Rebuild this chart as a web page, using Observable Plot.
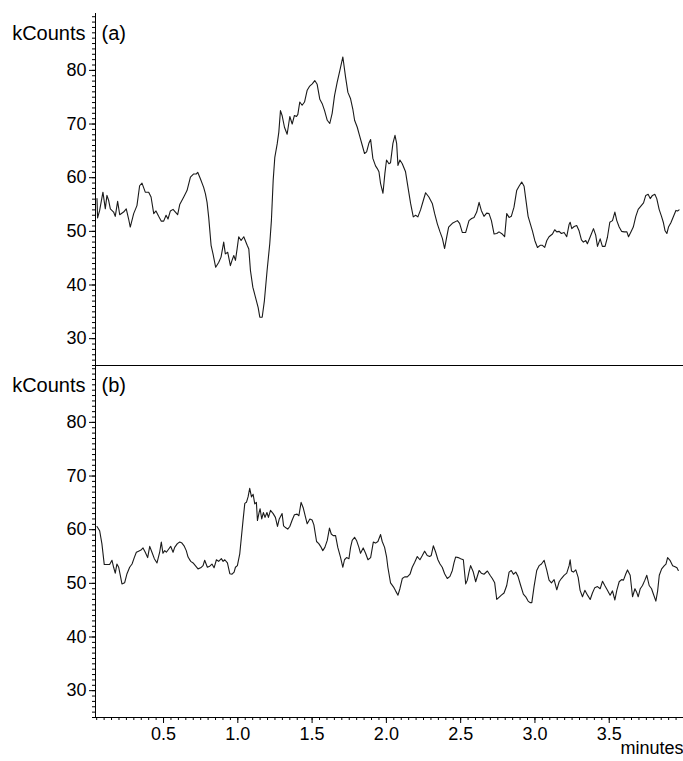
<!DOCTYPE html>
<html>
<head>
<meta charset="utf-8">
<script src="https://cdn.jsdelivr.net/npm/d3@7"></script>
<script src="https://cdn.jsdelivr.net/npm/@observablehq/plot@0.6"></script>
<style>
  html, body { margin: 0; padding: 0; background: #fff; }
  #chart svg { display: block; }
</style>
</head>
<body>
<div id="chart"></div>
<script>
// Panel labels and axis labels
const panels = ["a", "b"];
const panelLabels = ["(a)", "(b)"];
const yLabel = "kCounts";
const xLabel = "minutes";

// Tick values
const yMajorTicks = [30, 40, 50, 60, 70, 80];
const yMinorTicks = d3.range(25, 91, 1);
const xMajorTicks = [0.5, 1.0, 1.5, 2.0, 2.5, 3.0, 3.5];
const xMinorTicks = d3.range(1, 81).map(i => +(i * 0.05).toFixed(2));

// Series (a): [minutes, kCounts]
const panelA = [[0.052,56.1],[0.056,52.5],[0.070,53.9],[0.092,57.3],[0.108,54.2],[0.119,56.7],[0.130,55.8],[0.142,54.2],[0.164,53.6],[0.175,52.8],[0.191,55.6],[0.205,53.1],[0.231,53.6],[0.249,54.2],[0.265,52.3],[0.276,50.8],[0.299,53.3],[0.321,54.8],[0.339,58.5],[0.355,59.0],[0.377,57.3],[0.400,57.3],[0.416,56.4],[0.434,53.3],[0.449,53.8],[0.467,52.8],[0.485,51.9],[0.501,51.9],[0.517,53.0],[0.530,52.3],[0.546,53.8],[0.564,54.1],[0.580,53.6],[0.595,53.1],[0.609,55.0],[0.636,56.4],[0.658,57.6],[0.681,60.1],[0.703,60.7],[0.721,60.7],[0.730,61.0],[0.748,59.8],[0.770,58.2],[0.782,57.0],[0.793,55.4],[0.804,52.6],[0.820,47.4],[0.833,45.8],[0.851,43.3],[0.871,44.2],[0.887,45.2],[0.905,48.0],[0.916,45.8],[0.932,46.1],[0.950,43.6],[0.961,44.6],[0.973,45.5],[0.984,44.6],[0.995,46.7],[1.006,49.0],[1.022,48.3],[1.040,49.0],[1.063,47.4],[1.074,46.7],[1.085,42.7],[1.101,39.6],[1.119,37.7],[1.137,35.8],[1.148,34.0],[1.164,34.0],[1.179,37.1],[1.197,42.7],[1.215,47.7],[1.226,52.0],[1.238,59.5],[1.249,63.8],[1.265,66.3],[1.276,68.5],[1.287,72.5],[1.298,71.6],[1.314,69.4],[1.332,68.1],[1.350,71.4],[1.366,70.0],[1.381,71.6],[1.395,71.4],[1.404,71.8],[1.417,74.1],[1.433,73.5],[1.449,74.1],[1.467,76.3],[1.482,77.0],[1.501,77.5],[1.518,78.1],[1.534,77.4],[1.552,74.6],[1.568,73.8],[1.584,72.5],[1.602,70.7],[1.619,70.1],[1.635,72.0],[1.651,75.3],[1.669,77.8],[1.687,80.0],[1.707,82.5],[1.725,78.8],[1.741,75.9],[1.759,74.7],[1.774,72.8],[1.786,70.7],[1.804,69.4],[1.819,67.9],[1.838,66.0],[1.853,64.5],[1.867,64.8],[1.882,66.4],[1.894,67.1],[1.909,63.6],[1.927,62.2],[1.939,61.7],[1.950,61.1],[1.961,58.9],[1.977,57.1],[1.990,60.8],[2.001,63.3],[2.017,62.6],[2.028,62.8],[2.044,66.4],[2.058,67.9],[2.069,66.4],[2.078,62.3],[2.091,63.3],[2.107,62.6],[2.129,61.1],[2.145,58.3],[2.163,55.2],[2.181,52.7],[2.197,53.0],[2.212,52.7],[2.230,54.0],[2.249,55.8],[2.264,57.2],[2.286,56.4],[2.309,55.2],[2.325,53.3],[2.343,51.4],[2.361,49.9],[2.377,48.7],[2.392,46.8],[2.405,48.8],[2.419,50.8],[2.444,51.5],[2.478,52.0],[2.493,51.5],[2.511,49.8],[2.534,49.8],[2.556,52.0],[2.574,52.4],[2.590,52.6],[2.608,53.6],[2.624,55.4],[2.639,53.9],[2.657,52.8],[2.675,53.4],[2.691,53.3],[2.707,52.0],[2.725,49.5],[2.743,49.6],[2.758,49.9],[2.780,49.5],[2.796,49.0],[2.810,53.3],[2.826,52.6],[2.841,52.8],[2.859,54.5],[2.877,57.6],[2.893,58.4],[2.911,59.2],[2.927,58.4],[2.938,56.1],[2.954,52.8],[2.972,51.1],[2.983,50.1],[2.999,48.3],[3.017,47.0],[3.035,47.4],[3.050,47.4],[3.066,47.0],[3.080,48.3],[3.095,49.0],[3.118,49.5],[3.133,50.3],[3.147,49.9],[3.163,50.0],[3.178,49.6],[3.196,49.8],[3.214,49.0],[3.230,51.3],[3.237,51.7],[3.248,50.5],[3.264,50.9],[3.281,51.1],[3.297,50.1],[3.313,48.4],[3.326,48.0],[3.342,48.3],[3.353,47.7],[3.371,48.9],[3.394,50.5],[3.409,49.3],[3.421,47.2],[3.439,48.6],[3.454,47.2],[3.472,47.2],[3.488,48.9],[3.504,51.7],[3.522,52.0],[3.538,53.6],[3.551,52.0],[3.567,50.8],[3.583,50.0],[3.601,49.9],[3.619,49.9],[3.630,49.0],[3.646,49.9],[3.662,50.8],[3.679,52.8],[3.695,54.1],[3.713,54.7],[3.731,55.3],[3.746,56.7],[3.762,56.9],[3.776,56.1],[3.791,56.7],[3.807,56.9],[3.820,56.1],[3.836,54.1],[3.852,52.8],[3.865,51.6],[3.876,50.1],[3.888,49.6],[3.899,50.8],[3.915,51.6],[3.933,52.8],[3.949,53.9],[3.960,53.8],[3.970,54.0]];

// Series (b): [minutes, kCounts]
const panelB = [[0.052,60.6],[0.070,59.8],[0.085,57.4],[0.101,53.5],[0.119,53.5],[0.137,53.5],[0.153,54.3],[0.164,53.0],[0.175,51.9],[0.186,53.6],[0.198,53.0],[0.209,51.5],[0.220,49.9],[0.238,50.1],[0.254,51.8],[0.272,53.0],[0.288,53.6],[0.303,54.8],[0.317,55.8],[0.332,56.0],[0.348,56.2],[0.362,56.6],[0.377,55.8],[0.393,54.8],[0.407,56.9],[0.422,55.8],[0.438,54.6],[0.456,53.8],[0.474,55.8],[0.485,57.7],[0.496,55.6],[0.508,56.1],[0.519,55.8],[0.535,56.4],[0.548,56.9],[0.564,55.8],[0.575,56.7],[0.593,57.4],[0.609,57.7],[0.624,57.5],[0.638,57.0],[0.653,56.1],[0.665,54.9],[0.683,54.1],[0.699,53.8],[0.714,53.3],[0.732,52.7],[0.750,52.9],[0.766,53.3],[0.777,54.3],[0.795,53.0],[0.811,53.2],[0.826,53.6],[0.840,52.9],[0.856,54.4],[0.871,54.1],[0.889,54.6],[0.901,54.1],[0.912,54.4],[0.930,53.8],[0.946,51.8],[0.961,51.7],[0.975,52.1],[0.984,53.0],[0.997,53.3],[1.013,55.5],[1.024,58.6],[1.035,61.7],[1.047,64.9],[1.058,65.1],[1.069,66.1],[1.080,67.7],[1.092,66.1],[1.103,66.6],[1.114,64.8],[1.125,65.1],[1.132,61.7],[1.143,63.2],[1.150,63.9],[1.161,62.0],[1.172,63.2],[1.183,62.3],[1.196,63.2],[1.206,62.3],[1.220,63.6],[1.238,63.0],[1.253,62.3],[1.267,60.6],[1.279,62.0],[1.298,63.0],[1.308,60.7],[1.321,60.4],[1.336,60.1],[1.350,60.6],[1.366,61.8],[1.381,62.8],[1.399,62.9],[1.411,62.6],[1.426,65.1],[1.440,64.1],[1.456,62.3],[1.467,61.1],[1.485,62.0],[1.500,61.8],[1.512,60.9],[1.530,57.8],[1.545,57.4],[1.557,56.9],[1.572,56.1],[1.586,56.7],[1.602,58.0],[1.617,60.3],[1.629,59.2],[1.642,58.9],[1.658,58.9],[1.673,56.7],[1.691,54.9],[1.707,53.0],[1.718,54.4],[1.732,54.8],[1.748,54.6],[1.759,56.7],[1.770,58.0],[1.786,58.6],[1.799,58.0],[1.815,56.7],[1.826,55.6],[1.844,56.6],[1.860,55.6],[1.876,54.4],[1.894,54.8],[1.912,57.7],[1.927,57.5],[1.943,57.8],[1.961,59.1],[1.972,57.8],[1.988,56.7],[2.001,55.0],[2.010,53.0],[2.028,50.1],[2.051,49.2],[2.062,48.6],[2.078,47.8],[2.091,49.0],[2.107,50.9],[2.123,51.2],[2.141,51.2],[2.159,51.7],[2.174,53.0],[2.190,53.9],[2.208,55.0],[2.226,54.4],[2.242,55.2],[2.257,56.0],[2.275,55.2],[2.291,55.0],[2.302,55.2],[2.316,57.0],[2.332,55.8],[2.347,54.4],[2.361,53.6],[2.376,53.0],[2.392,51.8],[2.410,50.9],[2.428,51.3],[2.444,52.4],[2.455,53.8],[2.466,54.9],[2.484,54.8],[2.500,54.6],[2.518,54.4],[2.534,49.9],[2.545,50.6],[2.556,52.1],[2.567,53.3],[2.585,52.1],[2.601,50.3],[2.624,52.4],[2.639,51.9],[2.657,51.7],[2.680,52.3],[2.698,51.5],[2.713,50.9],[2.729,50.1],[2.743,47.0],[2.758,47.4],[2.774,47.8],[2.792,48.2],[2.810,49.6],[2.826,52.1],[2.841,52.4],[2.855,51.7],[2.871,52.1],[2.886,51.3],[2.904,49.6],[2.922,48.0],[2.938,47.5],[2.954,46.7],[2.967,46.4],[2.979,46.4],[2.994,49.4],[3.012,52.4],[3.028,53.3],[3.044,53.6],[3.062,54.3],[3.080,52.4],[3.095,50.6],[3.111,50.1],[3.129,50.7],[3.147,48.8],[3.163,50.3],[3.178,50.9],[3.196,51.5],[3.214,51.9],[3.230,53.3],[3.237,54.4],[3.246,52.3],[3.259,52.1],[3.275,52.5],[3.291,51.1],[3.304,48.7],[3.320,47.5],[3.336,48.7],[3.354,47.8],[3.372,47.0],[3.387,48.2],[3.403,49.2],[3.421,49.4],[3.439,49.0],[3.455,50.4],[3.470,49.6],[3.488,48.7],[3.506,47.8],[3.522,48.6],[3.538,46.9],[3.551,48.7],[3.567,50.3],[3.583,50.7],[3.596,50.6],[3.612,51.8],[3.623,52.5],[3.641,51.5],[3.657,47.5],[3.673,49.0],[3.684,48.4],[3.695,47.5],[3.709,49.0],[3.724,49.6],[3.740,50.6],[3.753,51.5],[3.769,49.6],[3.785,49.0],[3.796,48.1],[3.814,46.7],[3.826,48.6],[3.837,51.5],[3.853,52.7],[3.871,53.3],[3.882,53.6],[3.893,54.8],[3.909,54.3],[3.927,53.3],[3.943,53.1],[3.956,52.9],[3.965,52.4]];

const xDomain = [0.042, 4.0];
const yDomain = [25, 90.6];

const data = [
  ...panelA.map(([t, v]) => ({panel: "a", t, v})),
  ...panelB.map(([t, v]) => ({panel: "b", t, v}))
];
const labelRows = panels.map((p, i) => ({panel: p, label: panelLabels[i]}));

const chart = Plot.plot({
  width: 683,
  height: 761,
  marginLeft: 95,
  marginRight: 0,
  marginTop: 12,
  marginBottom: 44,
  style: {fontFamily: "'Liberation Sans', Arial, sans-serif", fontSize: "18px", background: "#fff", color: "#000", overflow: "visible"},
  x: {domain: xDomain},
  y: {domain: yDomain},
  fy: {domain: panels, padding: 0, axis: null},
  marks: [
    // y axis minor and major ticks
    Plot.axisY({ticks: yMinorTicks, tickSize: 3, text: null, label: null, stroke: "#000"}),
    Plot.axisY({ticks: yMajorTicks, tickSize: 6, tickPadding: 3, label: null, stroke: "#000", fontSize: 18, tickFormat: d3.format("d")}),
    // y axis line in each panel
    Plot.ruleX([xDomain[0]], {stroke: "#000", strokeWidth: 1}),
    // divider line at top of panel (b)
    Plot.ruleY([{panel: "b", y: yDomain[1]}], {y: "y", fy: "panel", stroke: "#000", strokeWidth: 1}),
    // x axis (bottom panel)
    Plot.axisX({ticks: xMinorTicks, tickSize: 3, text: null, label: null, facetAnchor: "bottom", stroke: "#000"}),
    Plot.axisX({ticks: xMajorTicks, tickSize: 6, tickPadding: 4, label: null, facetAnchor: "bottom", stroke: "#000", fontSize: 18, tickFormat: d3.format(".1f")}),
    Plot.ruleY([{panel: "b", y: yDomain[0]}], {y: "y", fy: "panel", stroke: "#000", strokeWidth: 1}),
    // data lines
    Plot.line(data, {x: "t", y: "v", fy: "panel", stroke: "#1a1a1a", strokeWidth: 1.1}),
    // labels
    Plot.text(labelRows, {fy: "panel", text: "label", frameAnchor: "top-left", textAnchor: "start", dx: 6, dy: 12, fontSize: 20, fill: "#000"}),
    Plot.text(labelRows, {fy: "panel", text: () => yLabel, frameAnchor: "top-left", textAnchor: "end", dx: -10, dy: 12, fontSize: 20, fill: "#000"}),
    Plot.text([{panel: "b"}], {fy: "panel", text: () => xLabel, frameAnchor: "bottom-right", textAnchor: "end", dx: 0, dy: 36, fontSize: 18, fill: "#000"})
  ]
});

document.getElementById("chart").appendChild(chart);
</script>
</body>
</html>
